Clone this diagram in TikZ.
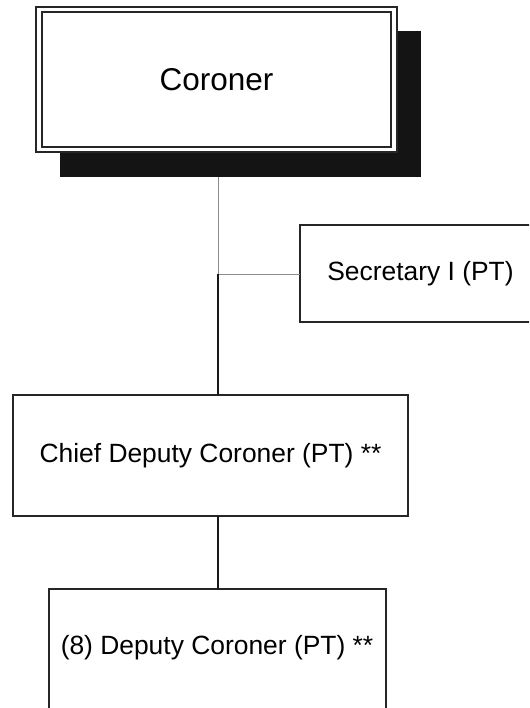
\documentclass[tikz,border=0pt]{standalone}
\usepackage{fontspec}
\setmainfont{Liberation Sans}
\begin{document}
\begin{tikzpicture}[x=1pt,y=-1pt,
  box/.style={draw=black!85,line width=1.3pt,fill=white},
  link/.style={draw=black!90,line width=1.2pt},
  lightlink/.style={draw=black!45,line width=1pt},
  lbl/.style={font=\fontsize{26.4}{30}\selectfont,inner sep=0pt},
  toplbl/.style={font=\fontsize{31.5}{36}\selectfont,inner sep=0pt}]
\useasboundingbox (0,0) rectangle (529,708);
\begin{scope}
\clip (0,0) rectangle (529,708);
% Coroner: drop shadow and double frame
\fill[black!92] (60,31) rectangle (421,177);
\draw[box] (36,7) rectangle (397,152);
\draw[draw=black!85,line width=1.3pt] (42,12) rectangle (391,147);
\node[toplbl] (cor) at (216.5,79.5) {Coroner};
\coordinate (corb) at (218,177);
% Secretary
\draw[box] (300,225) rectangle (540,322);
\node[lbl] (sec) at (420.5,273.5) {Secretary I (PT)};
\coordinate (secl) at (300,274);
\coordinate (tee) at (218,274);
% Chief deputy
\draw[box] (13,395) rectangle (408,516);
\node[lbl] (chief) at (210.5,455.5) {Chief Deputy Coroner (PT) **};
\coordinate (chieft) at (218,395);
\coordinate (chiefb) at (218,516);
% Deputies
\draw[box] (49,589) rectangle (386,720);
\node[lbl] (dep) at (217,648) {(8) Deputy Coroner (PT) **};
\coordinate (dept) at (218,589);
% connectors
\draw[lightlink] (corb) -- (tee);
\draw[lightlink] (tee) -- (secl);
\draw[link] (tee) -- (chieft);
\draw[link] (chiefb) -- (dept);
\end{scope}
\end{tikzpicture}
\end{document}
